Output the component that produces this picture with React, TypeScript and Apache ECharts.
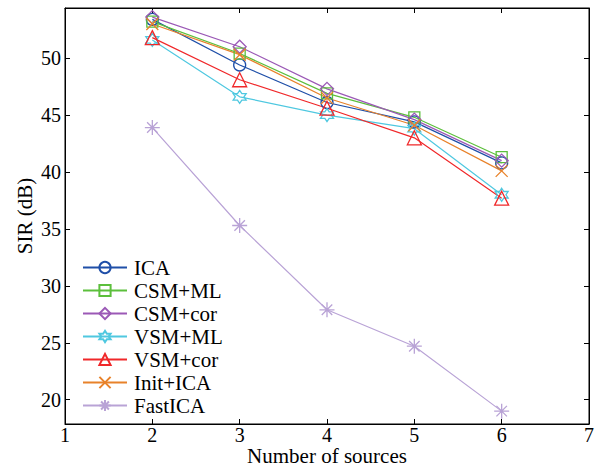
import React, { useEffect, useRef } from "react";
import * as echarts from "echarts";

const sources = [2, 3, 4, 5, 6];
const seriesNames = ["ICA", "CSM+ML", "CSM+cor", "VSM+ML", "VSM+cor", "Init+ICA", "FastICA"];
const icaVals = [53.4, 49.4, 46.1, 44.4, 40.8];
const csmMlVals = [53.2, 50.4, 46.9, 44.8, 41.3];
const csmCorVals = [53.6, 51.0, 47.3, 44.6, 41.0];
const vsmMlVals = [51.6, 46.6, 45.0, 43.8, 38.0];
const vsmCorVals = [51.8, 48.1, 45.6, 43.0, 37.7];
const initIcaVals = [53.0, 50.3, 46.5, 44.1, 40.1];
const fastIcaVals = [43.9, 35.3, 27.9, 24.7, 19.0];
const xTicks = [1, 2, 3, 4, 5, 6, 7];
const yTicks = [20, 25, 30, 35, 40, 45, 50];

const colors = ["#1f4fa8", "#5cbf3c", "#9b59b6", "#4fc8e0", "#f0282a", "#e8822a", "#b9a3d6"];

const hexagram =
  "path://M10 0 L12.89 5 L18.66 5 L15.77 10 L18.66 15 L12.89 15 L10 20 L7.11 15 L1.34 15 L4.23 10 L1.34 5 L7.11 5 Z";
const cross = "path://M0 0 L20 20 M20 0 L0 20";
const asterisk = "path://M10 0 L10 20 M0 10 L20 10 M3 3 L17 17 M17 3 L3 17";

const symbols = ["circle", "rect", "diamond", hexagram, "triangle", cross, asterisk];
const symbolSizes = [12, 11, 13, 13, 14, 12, 15];
const allVals = [icaVals, csmMlVals, csmCorVals, vsmMlVals, vsmCorVals, initIcaVals, fastIcaVals];

const FONT = "'Liberation Serif', 'Times New Roman', Times, serif";

export default function App() {
  const ref = useRef<HTMLDivElement>(null);
  useEffect(() => {
    if (!ref.current) return;
    document.body.style.margin = "0";
    const chart = echarts.init(ref.current, undefined, { renderer: "svg" });
    const series = seriesNames.map((name, i) => ({
      name,
      type: "line",
      data: sources.map((x, j) => [x, allVals[i][j]]),
      symbol: symbols[i],
      symbolSize: symbolSizes[i],
      lineStyle: { color: colors[i], width: 1.2 },
      itemStyle: { color: "rgba(255,255,255,0)", borderColor: colors[i], borderWidth: 1.3 },
      color: colors[i],
    }));
    chart.setOption({
      animation: false,
      textStyle: { fontFamily: FONT },
      grid: {
        left: 65,
        right: 6,
        top: 8,
        bottom: 46,
        show: true,
        borderColor: "#000",
        borderWidth: 1,
        containLabel: false,
        outerBoundsMode: "none",
      },
      legend: {
        orient: "vertical",
        left: 82,
        top: 257,
        padding: 0,
        itemWidth: 44,
        itemHeight: 14,
        itemGap: 2,
        textStyle: { fontFamily: FONT, fontSize: 21, color: "#000", padding: [0, 0, 0, 2] },
        data: seriesNames,
      },
      xAxis: [
        {
          type: "value",
          min: xTicks[0],
          max: xTicks[xTicks.length - 1],
          interval: 1,
          name: "Number of sources",
          nameLocation: "middle",
          nameGap: 21,
          nameMoveOverlap: false,
          nameTextStyle: { fontFamily: FONT, fontSize: 21, color: "#000" },
          axisLine: { show: true, lineStyle: { color: "#000" } },
          axisTick: { inside: true, length: 5, lineStyle: { color: "#000" } },
          axisLabel: { fontFamily: FONT, fontSize: 20, color: "#000", margin: 1 },
          splitLine: { show: false },
        },
        {
          type: "value",
          position: "top",
          min: xTicks[0],
          max: xTicks[xTicks.length - 1],
          interval: 1,
          axisLine: { show: true, lineStyle: { color: "#000" } },
          axisTick: { inside: true, length: 5, lineStyle: { color: "#000" } },
          axisLabel: { show: false },
          splitLine: { show: false },
        },
      ],
      yAxis: [
        {
          type: "value",
          min: 17.87,
          max: 54.4,
          minInterval: 5,
          maxInterval: 5,
          name: "SIR (dB)",
          nameLocation: "middle",
          nameGap: 30,
          nameMoveOverlap: false,
          nameTextStyle: { fontFamily: FONT, fontSize: 21, color: "#000" },
          axisLine: { show: true, lineStyle: { color: "#000" } },
          axisTick: { inside: true, length: 5, lineStyle: { color: "#000" } },
          axisLabel: {
            fontFamily: FONT,
            fontSize: 20,
            color: "#000",
            margin: 4,
            showMinLabel: false,
            showMaxLabel: false,
            formatter: (v: number) => (yTicks.includes(Math.round(v * 1000) / 1000) ? String(v) : ""),
          },
          splitLine: { show: false },
        },
        {
          type: "value",
          position: "right",
          min: 17.87,
          max: 54.4,
          minInterval: 5,
          maxInterval: 5,
          axisLine: { show: true, lineStyle: { color: "#000" } },
          axisTick: { inside: true, length: 5, lineStyle: { color: "#000" } },
          axisLabel: { show: false },
          splitLine: { show: false },
        },
      ],
      series,
    });
    return () => chart.dispose();
  }, []);
  return <div ref={ref} style={{ width: 595, height: 470 }} />;
}
